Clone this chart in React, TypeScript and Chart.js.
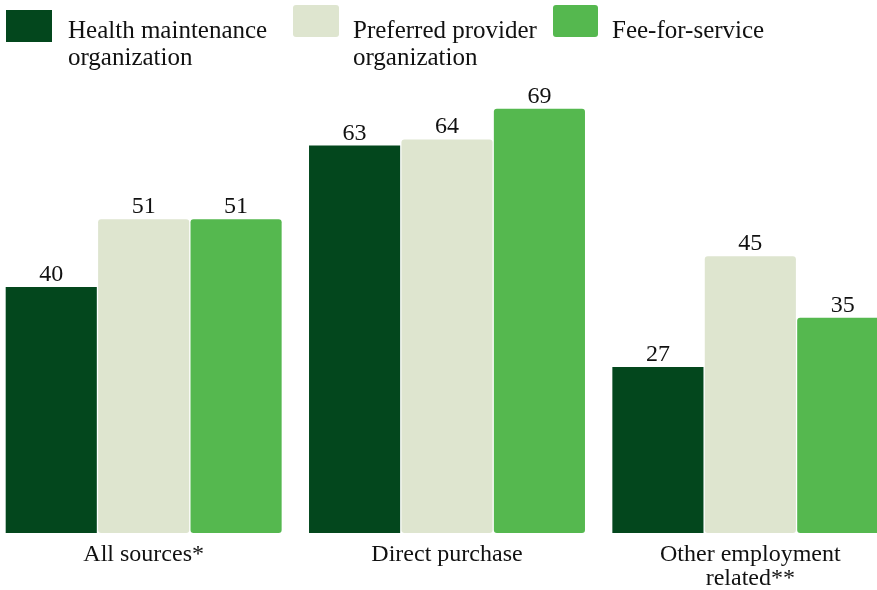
import React, { useEffect, useRef } from "react";
import { Chart, registerables } from "chart.js";

Chart.register(...registerables);

const categories: string[][] = [["All sources*"], ["Direct purchase"], ["Other employment", "related**"]];
const seriesNames: string[][] = [
  ["Health maintenance", "organization"],
  ["Preferred provider", "organization"],
  ["Fee-for-service"],
];
const hmoValues = [40, 63, 27];
const ppoValues = [51, 64, 45];
const ffsValues = [51, 69, 35];
const colors = ["#03471d", "#dee5cf", "#55b84f"];

const FONT = "'Liberation Serif', 'Times New Roman', serif";

const valueLabels = {
  id: "valueLabels",
  afterDatasetsDraw(chart: any) {
    const ctx = chart.ctx;
    ctx.save();
    ctx.font = `24px ${FONT}`;
    ctx.fillStyle = "#111";
    ctx.textAlign = "center";
    ctx.textBaseline = "alphabetic";
    chart.data.datasets.forEach((ds: any, i: number) => {
      const meta = chart.getDatasetMeta(i);
      meta.data.forEach((bar: any, j: number) => {
        ctx.fillText(String(ds.data[j]), bar.x, bar.y - 6);
      });
    });
    ctx.restore();
  },
};

export default function App() {
  const ref = useRef<HTMLCanvasElement>(null);
  useEffect(() => {
    if (!ref.current) return;
    const mk = (label: string, data: number[], color: string, radius: number) => ({
      label,
      data,
      backgroundColor: color,
      borderRadius: radius,
      borderSkipped: false,
      categoryPercentage: 0.914,
      barPercentage: 0.986,
    });
    const chart = new Chart(ref.current, {
      type: "bar",
      data: {
        labels: categories,
        datasets: [
          mk(seriesNames[0].join(" "), hmoValues, colors[0], 0),
          mk(seriesNames[1].join(" "), ppoValues, colors[1], 3),
          mk(seriesNames[2].join(" "), ffsValues, colors[2], 3),
        ],
      },
      options: {
        animation: false,
        responsive: true,
        maintainAspectRatio: false,
        layout: { padding: { top: 41, left: 0, right: 0, bottom: 0 } },
        plugins: { legend: { display: false }, tooltip: { enabled: false } },
        scales: {
          x: {
            grid: { display: false, drawTicks: false },
            border: { display: false },
            ticks: {
              padding: 10,
              color: "#111",
              font: { family: FONT, size: 24, lineHeight: 1.0 },
            },
            afterFit: (scale: any) => {
              scale.height = 57;
            },
          },
          y: { display: false, min: 0, max: 80 },
        },
      },
      plugins: [valueLabels],
    });
    return () => chart.destroy();
  }, []);

  const legendText: React.CSSProperties = {
    position: "absolute",
    fontFamily: FONT,
    fontSize: 25,
    lineHeight: "27px",
    color: "#111",
    whiteSpace: "nowrap",
  };
  const items = [
    { box: { left: 6, top: 10, width: 46, height: 32, r: 0 }, text: { left: 68, top: 16 } },
    { box: { left: 293, top: 5, width: 46, height: 32, r: 3 }, text: { left: 353, top: 16 } },
    { box: { left: 553, top: 5, width: 45, height: 32, r: 3 }, text: { left: 612, top: 16 } },
  ];

  return (
    <div style={{ position: "absolute", left: 0, top: 0, width: 877, height: 590, overflow: "hidden", background: "#fff" }}>
      <div style={{ position: "absolute", left: -8, top: 0, width: 910, height: 590 }}>
        <canvas ref={ref} />
      </div>
      {items.map((it, i) => (
        <React.Fragment key={i}>
          <div
            style={{
              position: "absolute",
              left: it.box.left,
              top: it.box.top,
              width: it.box.width,
              height: it.box.height,
              background: colors[i],
              borderRadius: it.box.r,
            }}
          />
          <div style={{ ...legendText, left: it.text.left, top: it.text.top }}>
            {seriesNames[i].map((line, k) => (
              <div key={k}>{line}</div>
            ))}
          </div>
        </React.Fragment>
      ))}
    </div>
  );
}
